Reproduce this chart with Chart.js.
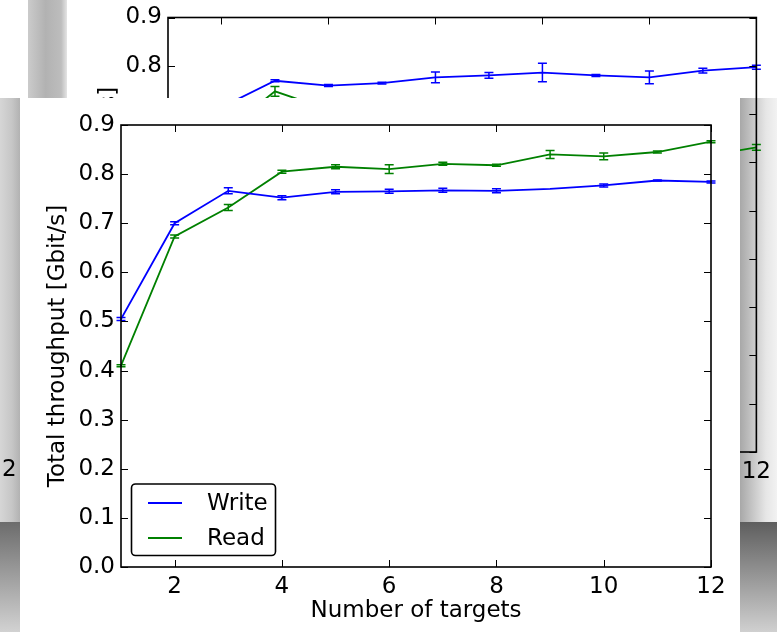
<!DOCTYPE html>
<html><head><meta charset="utf-8">
<script src="https://cdn.jsdelivr.net/npm/chart.js@4.4.0/dist/chart.umd.min.js"></script>
<style>
html,body{margin:0;padding:0;width:777px;height:632px;overflow:hidden;background:#fff;position:relative;font-family:"DejaVu Sans";}
.abs{position:absolute;}
.txt{font:23px "DejaVu Sans";color:#000;white-space:nowrap;line-height:26px;}
</style></head><body>
<div class="abs" style="left:28px;top:0;width:39px;height:98px;background:linear-gradient(to right,#cbcbcb,#b2b2b2 45%,#bdbdbd 85%,#e4e4e4)"></div>
<div class="abs" style="left:0;top:98px;width:20px;height:424px;background:linear-gradient(to right,#d6d6d6,#c6c6c6 60%,#b2b2b2)"></div>
<div class="abs" style="left:0;top:522px;width:20px;height:110px;background:linear-gradient(to bottom,#6c6c6c,#d2d2d2)"></div>
<div class="abs" style="left:740px;top:98px;width:37px;height:424px;background:linear-gradient(to right,#a8a8a8,#e6e6e6 70%,#f2f2f2)"></div>
<div class="abs" style="left:740px;top:522px;width:37px;height:110px;background:linear-gradient(to bottom,#5e5e5e,#d0d0d0)"></div>
<canvas id="bg" class="abs" style="left:0;top:0" width="777" height="632"></canvas>
<div class="abs txt" style="left:-36px;top:215px;width:286px;height:26px;transform:rotate(-90deg);text-align:center;">Total throughput [Gbit/s]</div>
<div class="abs txt" style="left:2px;top:455px;">2</div>
<div class="abs" style="left:20px;top:98px;width:720px;height:534px;background:#fff"></div>
<canvas id="main" class="abs" style="left:20px;top:98px" width="720" height="534"></canvas>
<script>
// ---- data ----
const targets = [1,2,3,4,5,6,7,8,9,10,11,12];
const writeMean = [0.505,0.700,0.766,0.752,0.764,0.765,0.767,0.766,0.770,0.777,0.787,0.784];
const writeErr  = [0.003,0.003,0.006,0.004,0.004,0.004,0.004,0.004,0.000,0.003,0.001,0.002];
const readMean  = [0.410,0.673,0.732,0.805,0.815,0.810,0.821,0.818,0.840,0.836,0.845,0.866];
const readErr   = [0.002,0.003,0.006,0.003,0.004,0.009,0.003,0.002,0.008,0.007,0.002,0.002];
const bgWriteMean = [0.500,0.714,0.769,0.759,0.764,0.776,0.780,0.786,0.780,0.776,0.790,0.797];
const bgWriteErr  = [0.003,0.003,0.002,0.002,0.002,0.011,0.006,0.019,0.002,0.013,0.005,0.004];
const bgReadMean  = [0.400,0.659,0.747,0.709,0.700,0.680,0.660,0.650,0.640,0.630,0.612,0.631];
const bgReadErr   = [0.003,0.003,0.010,0.003,0.003,0.003,0.003,0.003,0.003,0.003,0.003,0.006];
const xTicks = [2,4,6,8,10,12];
const yTicks = [0,0.1,0.2,0.3,0.4,0.5,0.6,0.7,0.8,0.9];
const seriesNames = ['Write','Read'];
const seriesColors = ['#0000ff','#008000'];
const xTitle = 'Number of targets';
const yTitle = 'Total throughput [Gbit/s]';

const FONT = 'DejaVu Sans';
const FS = 23;
const pts = (xs, ys) => xs.map((v,i)=>({x:v, y:ys[i]}));

const framePlugin = {
  id:'frame',
  afterDraw(chart){
    const {ctx, chartArea:{left,right,top,bottom}, scales:{x,y}} = chart;
    ctx.save();
    ctx.strokeStyle='#000'; ctx.lineWidth=1;
    const L=7;
    ctx.beginPath();
    x.ticks.forEach(t=>{const px=Math.round(x.getPixelForValue(t.value))+0.5;
      ctx.moveTo(px,bottom);ctx.lineTo(px,bottom-L);ctx.moveTo(px,top);ctx.lineTo(px,top+L);});
    y.ticks.forEach(t=>{const py=Math.round(y.getPixelForValue(t.value))+0.5;
      ctx.moveTo(left,py);ctx.lineTo(left+L,py);ctx.moveTo(right,py);ctx.lineTo(right-L,py);});
    ctx.stroke();
    ctx.lineWidth=1.6;
    ctx.strokeRect(left,top,right-left,bottom-top);
    ctx.restore();
  }
};
const errPlugin = {
  id:'errbars',
  afterDatasetsDraw(chart){
    const {ctx, scales:{x,y}} = chart;
    ctx.save();
    chart.data.datasets.forEach(ds=>{
      ctx.strokeStyle=ds.borderColor; ctx.lineWidth=1.5;
      ds.data.forEach((p,j)=>{
        const e=ds.errors[j]; if(!e) return;
        const px=x.getPixelForValue(p.x);
        const y1=y.getPixelForValue(p.y-e), y2=y.getPixelForValue(p.y+e);
        ctx.beginPath();
        ctx.moveTo(px,y1);ctx.lineTo(px,y2);
        ctx.moveTo(px-4.5,y1);ctx.lineTo(px+4.5,y1);
        ctx.moveTo(px-4.5,y2);ctx.lineTo(px+4.5,y2);
        ctx.stroke();
      });
    });
    ctx.restore();
  }
};
const legendPlugin = {
  id:'boxLegend',
  afterDraw(chart, args, opts){
    if(!opts.show) return;
    const {ctx, chartArea:{left,bottom}} = chart;
    const bx=left+10.5, by=bottom-83, bw=144, bh=71.5, r=4;
    ctx.save();
    ctx.fillStyle='#fff'; ctx.strokeStyle='#000'; ctx.lineWidth=1.6;
    ctx.beginPath();
    ctx.moveTo(bx+r,by);ctx.lineTo(bx+bw-r,by);ctx.arcTo(bx+bw,by,bx+bw,by+r,r);
    ctx.lineTo(bx+bw,by+bh-r);ctx.arcTo(bx+bw,by+bh,bx+bw-r,by+bh,r);
    ctx.lineTo(bx+r,by+bh);ctx.arcTo(bx,by+bh,bx,by+bh-r,r);
    ctx.lineTo(bx,by+r);ctx.arcTo(bx,by,bx+r,by,r);ctx.closePath();
    ctx.fill();ctx.stroke();
    const rows=[bottom-64,bottom-29];
    chart.data.datasets.forEach((ds,i)=>{
      const yy=rows[i];
      ctx.strokeStyle=ds.borderColor; ctx.lineWidth=1.8;
      ctx.beginPath();ctx.moveTo(left+27,yy);ctx.lineTo(left+61,yy);ctx.stroke();
      ctx.fillStyle='#000'; ctx.font=FS+'px "'+FONT+'"'; ctx.textBaseline='middle'; ctx.textAlign='left';
      ctx.fillText(ds.label,left+86,yy+1);
    });
    ctx.restore();
  }
};

function makeConfig(wm,we,rm,re,opt){
  return {
    type:'line',
    data:{datasets:[
      {label:seriesNames[0],data:pts(targets,wm),errors:we,borderColor:seriesColors[0],backgroundColor:seriesColors[0],borderWidth:1.8,pointRadius:0,tension:0,fill:false},
      {label:seriesNames[1],data:pts(targets,rm),errors:re,borderColor:seriesColors[1],backgroundColor:seriesColors[1],borderWidth:1.8,pointRadius:0,tension:0,fill:false}
    ]},
    options:{
      responsive:false, animation:false, devicePixelRatio:1,
      layout:{padding:opt.padding},
      plugins:{legend:{display:false},tooltip:{enabled:false},boxLegend:{show:opt.legend}},
      scales:{
        x:{type:'linear',min:1,max:12,
          afterBuildTicks:s=>{s.ticks=xTicks.map(v=>({value:v}));},
          afterFit:s=>{s.height=opt.xh;},
          grid:{display:false,drawTicks:false},border:{display:false},
          ticks:{font:{family:FONT,size:FS},color:'#000',padding:opt.xpad,maxRotation:0,autoSkip:false,callback:v=>String(v)},
          title:{display:opt.titles,text:xTitle,font:{family:FONT,size:FS},color:'#000',padding:{top:0,bottom:7}}
        },
        y:{type:'linear',min:0,max:0.9,
          afterBuildTicks:s=>{s.ticks=yTicks.map(v=>({value:v}));},
          afterFit:s=>{s.width=opt.yw;},
          grid:{display:false,drawTicks:false},border:{display:false},
          ticks:{font:{family:FONT,size:FS,lineHeight:1.0},color:'#000',padding:6,autoSkip:false,callback:v=>v.toFixed(1)},
          title:{display:opt.titles,text:yTitle,font:{family:FONT,size:FS},color:'#000',padding:{top:24,bottom:0}}
        }
      }
    },
    plugins:[errPlugin,framePlugin,legendPlugin]
  };
}

new Chart(document.getElementById('bg'), makeConfig(bgWriteMean,bgWriteErr,bgReadMean,bgReadErr,
  {padding:{left:68,top:11,right:18,bottom:150},xh:30,yw:100,xpad:6,legend:false,titles:false}));
new Chart(document.getElementById('main'), makeConfig(writeMean,writeErr,readMean,readErr,
  {padding:{left:0,top:27,right:29,bottom:0},xh:65,yw:101,xpad:6,legend:true,titles:true}));
</script>
</body></html>
